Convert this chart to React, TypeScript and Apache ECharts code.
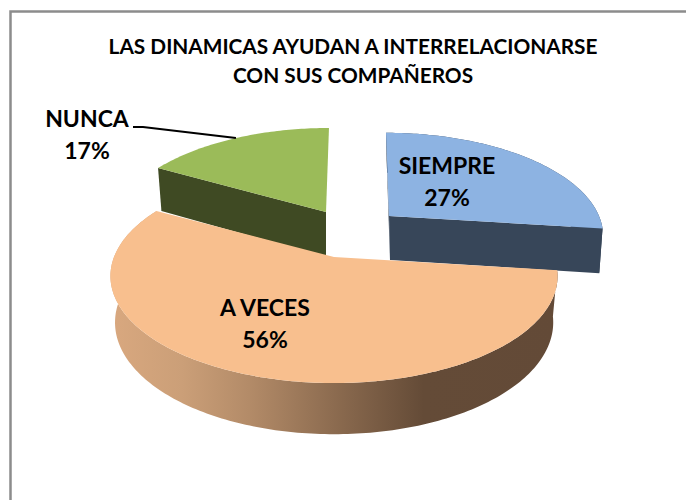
import React, { useEffect, useRef } from "react";
import * as echarts from "echarts";

const TITLE = "LAS DINAMICAS AYUDAN A INTERRELACIONARSE\nCON SUS COMPAÑEROS";
const CATEGORIES = ["SIEMPRE", "A VECES", "NUNCA"];
const VALUES = [27, 56, 17];

const FONT = "Lato, Carlito, Calibri, 'Open Sans', sans-serif";
const TILT = 0.178; // perspective strength
const WALL_SHRINK = 0.98;

type Look = {
  ax: number; ay: number; rx: number; ry: number; shear: number; wall: number; vanishX: number;
  top: string; side: any; startFace: boolean; endFace: boolean; outer: boolean; layer: number;
  labelX: number; labelY: number;
};

const orangeWall = {
  type: "linear", x: 110, y: 0, x2: 558, y2: 0, global: true,
  colorStops: [
    { offset: 0, color: "#D9A87F" },
    { offset: 0.16, color: "#CB9F78" },
    { offset: 0.31, color: "#B38B68" },
    { offset: 0.52, color: "#88684D" },
    { offset: 0.7, color: "#644B37" },
    { offset: 1, color: "#634A37" },
  ],
};

const LOOKS: Look[] = [
  { ax: 389, ay: 216, rx: 210, ry: 98, shear: -3.5, wall: 44, vanishX: 439, top: "#8DB3E2", side: "#374659", startFace: true, endFace: true, outer: true, layer: 1, labelX: 447, labelY: 181 },
  { ax: 334, ay: 257, rx: 220, ry: 103.6, shear: 0, wall: 45.5, vanishX: 340, top: "#F8BF8E", side: orangeWall, startFace: false, endFace: false, outer: true, layer: 3, labelX: 265, labelY: 323 },
  { ax: 326, ay: 212, rx: 210, ry: 99, shear: 3.5, wall: 45, vanishX: 326, top: "#9BBB59", side: "#3F4A23", startFace: true, endFace: false, outer: false, layer: 1, labelX: 87, labelY: 134 },
];

const total = VALUES.reduce((a, b) => a + b, 0);
const starts: number[] = [];
VALUES.reduce((acc, v, i) => {
  starts[i] = acc;
  return acc + (v / total) * Math.PI * 2;
}, 0);

function project(l: Look, theta: number, r = 1, lower = false): number[] {
  const u = Math.sin(theta) * r;
  const v = Math.cos(theta) * r;
  const s = 1 / (1 + TILT * v);
  let x = l.ax + l.rx * u * s + l.shear * v * s;
  let y = l.ay - l.ry * v * s;
  if (lower) {
    x = l.vanishX + (x - l.vanishX) * WALL_SHRINK;
    y += l.wall * Math.pow(s, 0.6);
  }
  return [x, y];
}

function arc(l: Look, a0: number, a1: number, lower = false): number[][] {
  const n = Math.max(2, Math.ceil(Math.abs(a1 - a0) / (Math.PI / 180)));
  const out: number[][] = [];
  for (let i = 0; i <= n; i++) out.push(project(l, a0 + ((a1 - a0) * i) / n, 1, lower));
  return out;
}

function renderSlice(params: any, api: any) {
  const i = params.dataIndex;
  const l = LOOKS[i];
  const value = api.value(0);
  const a0 = starts[i];
  const a1 = a0 + (value / total) * Math.PI * 2;
  const apexTop = project(l, 0, 0);
  const apexLow = project(l, 0, 0, true);
  const poly = (points: number[][], fill: any, z2: number) => ({
    type: "polygon",
    z2,
    shape: { points },
    style: { fill },
  });
  const children: any[] = [];
  if (l.outer) {
    children.push(poly([...arc(l, a0, a1), ...arc(l, a1, a0, true)], l.side, l.layer));
  }
  if (l.startFace) {
    children.push(poly([project(l, a0), apexTop, apexLow, project(l, a0, 1, true)], l.side, l.layer));
  }
  if (l.endFace) {
    children.push(poly([project(l, a1), apexTop, apexLow, project(l, a1, 1, true)], l.side, l.layer));
  }
  children.push(poly([apexTop, ...arc(l, a0, a1)], l.top, l.layer + 1));
  children.push({
    type: "text",
    z2: 10,
    x: l.labelX,
    y: l.labelY,
    style: {
      text: `${CATEGORIES[i]}\n${value}%`,
      fill: "#000",
      font: `bold 23px ${FONT}`,
      lineHeight: 32,
      align: "center",
      verticalAlign: "middle",
    },
  });
  if (i === 2) {
    const mid = project(l, (a0 + a1) / 2);
    children.push({
      type: "polyline",
      z2: 9,
      shape: { points: [[133, 127], [143, 127], mid] },
      style: { stroke: "#000", lineWidth: 2, fill: "none" },
    });
  }
  return { type: "group", children };
}

export default function App() {
  const ref = useRef<HTMLDivElement>(null);
  useEffect(() => {
    const chart = echarts.init(ref.current!, undefined, { renderer: "svg" });
    chart.setOption({
      animation: false,
      backgroundColor: "#fff",
      title: {
        text: TITLE,
        left: 348,
        top: 26,
        textAlign: "center",
        textStyle: { fontFamily: FONT, fontWeight: "bold", fontSize: 20.8, lineHeight: 29, color: "#000" },
      },
      graphic: [
        {
          type: "rect",
          z: -1,
          shape: { x: 10.5, y: 11.5, width: 700, height: 520 },
          style: { fill: "#fff", stroke: "#8C8C8C", lineWidth: 2.5 },
        },
      ],
      series: [
        {
          type: "custom",
          coordinateSystem: "none",
          renderItem: renderSlice,
          data: VALUES.map((v, i) => ({ name: CATEGORIES[i], value: [v] })),
        },
      ],
    });
    return () => chart.dispose();
  }, []);
  return <div ref={ref} style={{ position: "absolute", left: 0, top: 0, width: 686, height: 500 }} />;
}
